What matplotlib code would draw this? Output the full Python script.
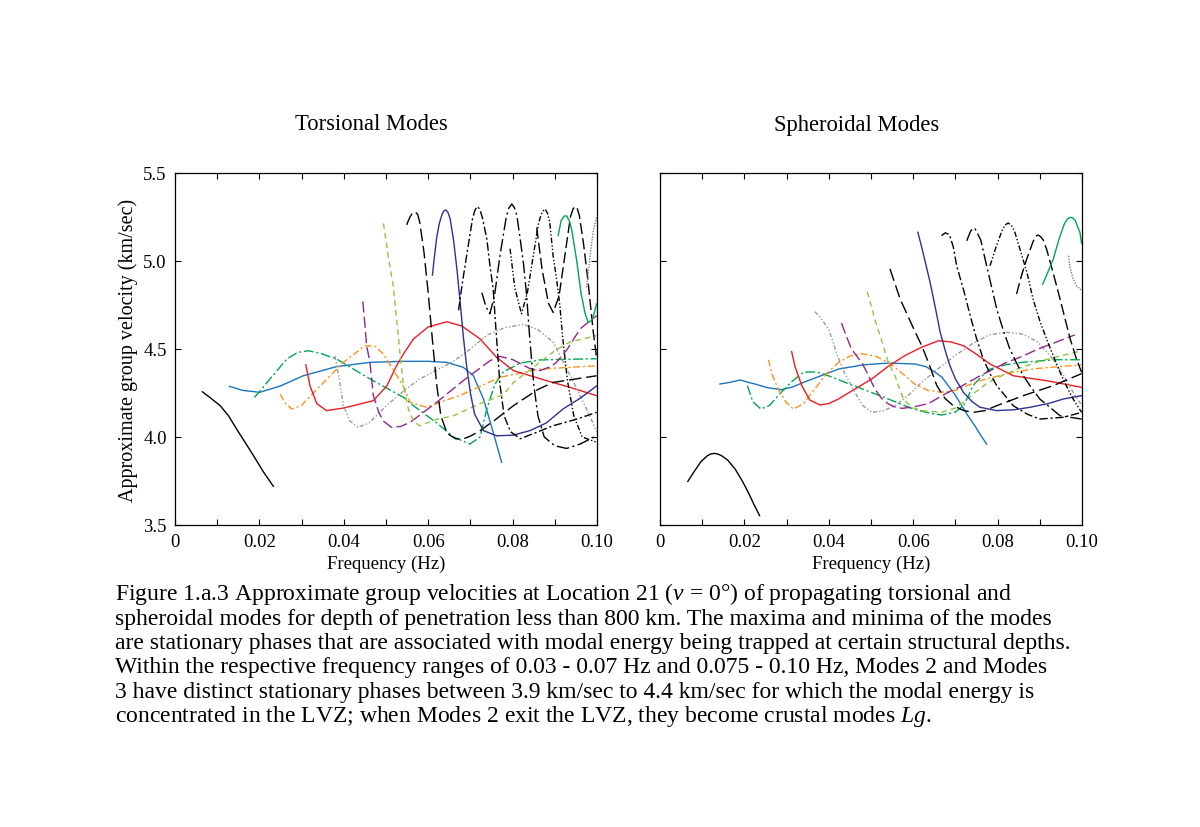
import matplotlib.pyplot as plt

plt.rcParams["font.family"] = ["Liberation Serif", "DejaVu Serif"]
plt.rcParams["mathtext.fontset"] = "custom"
plt.rcParams["mathtext.rm"] = "Liberation Serif"
plt.rcParams["mathtext.it"] = "Liberation Serif:italic"

# ---- Torsional modes: frequency (Hz) / group velocity (km/sec) ----
t0_f = [0.0065, 0.0085, 0.0107, 0.0127, 0.0146, 0.0166, 0.0186, 0.0210, 0.0233]
t0_v = [4.257, 4.22, 4.178, 4.12, 4.045, 3.97, 3.894, 3.80, 3.72]
t1_f = [0.0129, 0.0160, 0.0201, 0.0250, 0.0304, 0.0383, 0.0462, 0.0541, 0.0600,
        0.0644, 0.0683, 0.0707, 0.0731, 0.0754, 0.0774]
t1_v = [4.288, 4.265, 4.254, 4.29, 4.348, 4.40, 4.424, 4.43, 4.43,
        4.424, 4.396, 4.349, 4.216, 4.027, 3.856]
t2_f = [0.0188, 0.0205, 0.0225, 0.0265, 0.0290, 0.0316, 0.0345, 0.0383, 0.0462,
        0.0541, 0.0565, 0.0620, 0.0660, 0.0699, 0.0723, 0.0739, 0.0758, 0.0778,
        0.0818, 0.0865, 0.0999]
t2_v = [4.225, 4.27, 4.33, 4.443, 4.48, 4.49, 4.475, 4.443, 4.33,
        4.226, 4.178, 4.08, 4.0, 3.96, 4.0, 4.16, 4.30, 4.37,
        4.42, 4.438, 4.445]
t3_f = [0.0249, 0.0262, 0.0277, 0.0300, 0.0344, 0.0399, 0.0450, 0.0475, 0.0494,
        0.0541, 0.0557, 0.0596, 0.0620, 0.0683, 0.0770, 0.0865, 0.0999]
t3_v = [4.244, 4.19, 4.159, 4.18, 4.29, 4.424, 4.519, 4.515, 4.47,
        4.29, 4.197, 4.169, 4.19, 4.244, 4.339, 4.386, 4.405]
t4_f = [0.0310, 0.0320, 0.0336, 0.0359, 0.0400, 0.0470, 0.0502, 0.0525, 0.0541,
        0.0565, 0.0600, 0.0644, 0.0680, 0.0723, 0.0762, 0.0802, 0.0881, 0.0936, 0.0999]
t4_v = [4.41, 4.29, 4.19, 4.15, 4.165, 4.206, 4.29, 4.405, 4.47,
        4.557, 4.625, 4.655, 4.63, 4.557, 4.453, 4.377, 4.32, 4.282, 4.235]
t5_f = [0.0379, 0.0389, 0.0399, 0.0415, 0.0434, 0.0460, 0.0502, 0.0541, 0.0580,
        0.0620, 0.0660, 0.0700, 0.0740, 0.0780, 0.0825, 0.0860, 0.0896, 0.0928,
        0.0960, 0.0983, 0.0999]
t5_v = [4.46, 4.33, 4.18, 4.09, 4.055, 4.08, 4.18, 4.26, 4.33,
        4.38, 4.43, 4.50, 4.58, 4.62, 4.64, 4.61, 4.54, 4.39,
        4.235, 4.12, 4.03]
t6_f = [0.0445, 0.0450, 0.0454, 0.0462, 0.0470, 0.0483, 0.0494, 0.0513, 0.0535,
        0.0557, 0.0620, 0.0683, 0.0746, 0.0770, 0.0800, 0.0840, 0.0865, 0.0890,
        0.0904, 0.0930, 0.0960, 0.0999]
t6_v = [4.77, 4.64, 4.52, 4.424, 4.235, 4.14, 4.09, 4.055, 4.06,
        4.083, 4.197, 4.32, 4.433, 4.458, 4.44, 4.39, 4.377, 4.40,
        4.424, 4.50, 4.614, 4.69]
t7_f = [0.0494, 0.0505, 0.0517, 0.0525, 0.0533, 0.0541, 0.0553, 0.0565, 0.0580,
        0.0620, 0.0660, 0.0723, 0.0778, 0.0802, 0.0857, 0.0900, 0.0936, 0.0999]
t7_v = [5.214, 5.03, 4.86, 4.67, 4.48, 4.30, 4.16, 4.09, 4.064,
        4.10, 4.121, 4.19, 4.24, 4.31, 4.41, 4.49, 4.54, 4.576]
t8_f = [0.0549, 0.0553, 0.0557, 0.0563, 0.0569, 0.0575, 0.0580, 0.0590, 0.0600,
        0.0610, 0.0620, 0.0630, 0.0645, 0.0665, 0.0683, 0.0700, 0.0723, 0.0760,
        0.0802, 0.0860, 0.0896, 0.0950, 0.0999]
t8_v = [5.205, 5.23, 5.25, 5.275, 5.28, 5.265, 5.22, 5.05, 4.82,
        4.55, 4.30, 4.12, 4.02, 3.99, 3.989, 4.005, 4.036, 4.10,
        4.178, 4.27, 4.31, 4.33, 4.348]
t9_f = [0.0610, 0.0615, 0.0620, 0.0626, 0.0632, 0.0637, 0.0642, 0.0647, 0.0652,
        0.0660, 0.0668, 0.0676, 0.0683, 0.0691, 0.0700, 0.0710, 0.0731, 0.0762,
        0.0800, 0.0841, 0.0880, 0.0920, 0.0960, 0.0999]
t9_v = [4.92, 5.03, 5.13, 5.21, 5.26, 5.285, 5.29, 5.275, 5.24,
        5.12, 4.955, 4.76, 4.576, 4.405, 4.25, 4.13, 4.036, 4.007,
        4.01, 4.036, 4.08, 4.16, 4.22, 4.29]
t10_f = [0.0672, 0.0680, 0.0691, 0.0705, 0.0711, 0.0716, 0.0722, 0.0728, 0.0739,
         0.0746, 0.0754, 0.0762, 0.0770, 0.0780, 0.0795, 0.0818, 0.0850, 0.0896,
         0.0950, 0.0999]
t10_v = [4.72, 4.86, 5.03, 5.24, 5.29, 5.31, 5.295, 5.25, 5.125,
         4.98, 4.84, 4.56, 4.30, 4.12, 4.03, 3.99, 4.02, 4.064,
         4.10, 4.14]
t11_f = [0.0727, 0.0737, 0.0746, 0.0757, 0.0770, 0.0785, 0.0791, 0.0798, 0.0804,
         0.0810, 0.0818, 0.0826, 0.0833, 0.0841, 0.0850, 0.0860, 0.0875, 0.0900,
         0.0928, 0.0960, 0.0999]
t11_v = [4.82, 4.74, 4.70, 4.80, 5.03, 5.25, 5.30, 5.324, 5.305,
         5.26, 5.125, 4.98, 4.81, 4.55, 4.30, 4.12, 4.00, 3.95,
         3.935, 3.96, 4.007]
t12_f = [0.0794, 0.0805, 0.0821, 0.0835, 0.0849, 0.0862, 0.0870, 0.0877, 0.0883,
         0.0888, 0.0896, 0.0904, 0.0912, 0.0919, 0.0930, 0.0945, 0.0965, 0.0999]
t12_v = [5.07, 4.85, 4.70, 4.82, 5.03, 5.22, 5.28, 5.295, 5.27,
         5.22, 5.03, 4.90, 4.746, 4.557, 4.32, 4.12, 4.00, 3.97]
t13_f = [0.0857, 0.0870, 0.0885, 0.0896, 0.0910, 0.0925, 0.0937, 0.0943, 0.0948,
         0.0953, 0.0958, 0.0968, 0.0978, 0.0991, 0.0999]
t13_v = [5.19, 4.95, 4.76, 4.708, 4.80, 5.05, 5.25, 5.295, 5.31,
         5.30, 5.26, 5.10, 4.90, 4.60, 4.45]
t14_f = [0.0908, 0.0915, 0.0922, 0.0928, 0.0934, 0.0940, 0.0952, 0.0962, 0.0972,
         0.0979, 0.0986, 0.0993, 0.0999]
t14_v = [5.144, 5.23, 5.255, 5.257, 5.23, 5.18, 5.0, 4.82, 4.70,
         4.652, 4.66, 4.70, 4.756]
t15_f = [0.0975, 0.0980, 0.0986, 0.0992, 0.0999]
t15_v = [4.85, 4.95, 5.08, 5.18, 5.25]

# ---- Spheroidal modes ----
s0_f = [0.0066, 0.0080, 0.0097, 0.0113, 0.0121, 0.0129, 0.0137, 0.0145, 0.0160,
        0.0178, 0.0195, 0.0209, 0.0222, 0.0236]
s0_v = [3.748, 3.80, 3.86, 3.895, 3.904, 3.907, 3.903, 3.895, 3.87,
        3.818, 3.75, 3.686, 3.62, 3.553]
s1_f = [0.0142, 0.0165, 0.0190, 0.0210, 0.0225, 0.0255, 0.0288, 0.0315, 0.0344,
        0.0423, 0.0482, 0.0541, 0.0604, 0.0630, 0.0652, 0.0668, 0.0683, 0.0699,
        0.0715, 0.0730, 0.0746, 0.0760, 0.0774]
s1_v = [4.301, 4.31, 4.324, 4.31, 4.301, 4.28, 4.269, 4.285, 4.314,
        4.386, 4.41, 4.42, 4.415, 4.40, 4.368, 4.34, 4.292, 4.24,
        4.178, 4.12, 4.064, 4.01, 3.96]
s2_f = [0.0207, 0.0220, 0.0239, 0.0260, 0.0280, 0.0310, 0.0340, 0.0370, 0.0399,
        0.0450, 0.0521, 0.0600, 0.0640, 0.0667, 0.0699, 0.0720, 0.0742, 0.0760,
        0.0782, 0.0818, 0.0857, 0.0936, 0.0999]
s2_v = [4.292, 4.20, 4.159, 4.18, 4.235, 4.31, 4.368, 4.37, 4.348,
        4.30, 4.235, 4.159, 4.135, 4.125, 4.14, 4.18, 4.292, 4.34,
        4.386, 4.41, 4.424, 4.439, 4.439]
s3_f = [0.0257, 0.0265, 0.0280, 0.0298, 0.0316, 0.0340, 0.0367, 0.0395, 0.0423,
        0.0450, 0.0478, 0.0510, 0.0541, 0.0570, 0.0604, 0.0635, 0.0667, 0.0700,
        0.0758, 0.0837, 0.0896, 0.0999]
s3_v = [4.439, 4.36, 4.273, 4.20, 4.159, 4.19, 4.273, 4.36, 4.424,
        4.46, 4.473, 4.46, 4.424, 4.37, 4.30, 4.265, 4.254, 4.265,
        4.32, 4.368, 4.39, 4.41]
s4_f = [0.0312, 0.0320, 0.0336, 0.0355, 0.0379, 0.0400, 0.0423, 0.0460, 0.0502,
        0.0540, 0.0580, 0.0620, 0.0660, 0.0690, 0.0719, 0.0750, 0.0782, 0.0837,
        0.0916, 0.0999]
s4_v = [4.485, 4.40, 4.292, 4.21, 4.182, 4.19, 4.216, 4.27, 4.33,
        4.40, 4.462, 4.51, 4.547, 4.54, 4.519, 4.47, 4.415, 4.348,
        4.32, 4.282]
s5_f = [0.0367, 0.0380, 0.0399, 0.0410, 0.0419, 0.0438, 0.0462, 0.0480, 0.0502,
        0.0530, 0.0557, 0.0590, 0.0620, 0.0660, 0.0699, 0.0740, 0.0780, 0.0820,
        0.0860, 0.0896, 0.0925, 0.0952, 0.0975, 0.0999]
s5_v = [4.712, 4.68, 4.614, 4.54, 4.47, 4.36, 4.254, 4.18, 4.14,
        4.15, 4.178, 4.24, 4.311, 4.39, 4.462, 4.53, 4.58, 4.595,
        4.585, 4.538, 4.46, 4.368, 4.27, 4.18]
s6_f = [0.0430, 0.0442, 0.0454, 0.0466, 0.0478, 0.0494, 0.0509, 0.0525, 0.0541,
        0.0557, 0.0573, 0.0600, 0.0636, 0.0680, 0.0715, 0.0760, 0.0818, 0.0860,
        0.0896, 0.0940, 0.0983]
s6_v = [4.648, 4.57, 4.50, 4.46, 4.424, 4.35, 4.273, 4.22, 4.188,
        4.17, 4.163, 4.17, 4.19, 4.25, 4.29, 4.35, 4.42, 4.46,
        4.50, 4.54, 4.58]
s7_f = [0.0491, 0.0500, 0.0509, 0.0525, 0.0541, 0.0557, 0.0568, 0.0577, 0.0595,
        0.0620, 0.0667, 0.0700, 0.0723, 0.0750, 0.0778, 0.0820, 0.0857, 0.0900,
        0.0936, 0.0999]
s7_v = [4.826, 4.75, 4.67, 4.55, 4.424, 4.348, 4.27, 4.216, 4.17,
        4.15, 4.14, 4.165, 4.206, 4.26, 4.311, 4.36, 4.396, 4.43,
        4.453, 4.49]
s8_f = [0.0545, 0.0557, 0.0569, 0.0585, 0.0604, 0.0620, 0.0636, 0.0656, 0.0675,
        0.0695, 0.0720, 0.0742, 0.0770, 0.0798, 0.0861, 0.0932, 0.0999]
s8_v = [4.955, 4.87, 4.784, 4.70, 4.60, 4.52, 4.424, 4.292, 4.22,
        4.178, 4.15, 4.14, 4.15, 4.178, 4.235, 4.292, 4.36]
s9_f = [0.0611, 0.0620, 0.0630, 0.0640, 0.0652, 0.0664, 0.0676, 0.0687, 0.0700,
        0.0719, 0.0740, 0.0758, 0.0798, 0.0840, 0.0877, 0.0920, 0.0956, 0.0999]
s9_v = [5.163, 5.08, 4.98, 4.879, 4.74, 4.595, 4.49, 4.405, 4.33,
        4.254, 4.20, 4.169, 4.15, 4.155, 4.169, 4.19, 4.216, 4.235]
s10_f = [0.0667, 0.0676, 0.0686, 0.0695, 0.0703, 0.0720, 0.0735, 0.0750, 0.0766,
         0.0782, 0.0798, 0.0837, 0.0870, 0.0900, 0.0956, 0.0999]
s10_v = [5.144, 5.16, 5.15, 5.08, 4.973, 4.83, 4.69, 4.56, 4.443,
         4.36, 4.292, 4.178, 4.13, 4.102, 4.112, 4.14]
s11_f = [0.0727, 0.0736, 0.0741, 0.0746, 0.0760, 0.0774, 0.0798, 0.0813, 0.0829,
         0.0845, 0.0861, 0.0880, 0.0900, 0.0948, 0.0999]
s11_v = [5.115, 5.17, 5.182, 5.186, 5.12, 4.973, 4.727, 4.61, 4.50,
         4.42, 4.348, 4.28, 4.216, 4.121, 4.102]
s12_f = [0.0782, 0.0795, 0.0810, 0.0818, 0.0825, 0.0832, 0.0840, 0.0853, 0.0870,
         0.0884, 0.0900, 0.0916, 0.0932, 0.0948, 0.0963, 0.0979, 0.0999]
s12_v = [4.973, 5.07, 5.17, 5.205, 5.216, 5.205, 5.17, 5.068, 4.93,
         4.784, 4.66, 4.557, 4.46, 4.368, 4.29, 4.216, 4.14]
s13_f = [0.0845, 0.0857, 0.0869, 0.0884, 0.0890, 0.0896, 0.0902, 0.0908, 0.0916,
         0.0932, 0.0948, 0.0960, 0.0972, 0.0986, 0.0999]
s13_v = [4.813, 4.92, 5.011, 5.11, 5.14, 5.148, 5.138, 5.12, 5.068,
         4.93, 4.784, 4.67, 4.557, 4.45, 4.368]
s14_f = [0.0907, 0.0918, 0.0932, 0.0945, 0.0958, 0.0965, 0.0972, 0.0978, 0.0984,
         0.0995, 0.0999]
s14_v = [4.869, 4.93, 5.011, 5.12, 5.21, 5.238, 5.248, 5.245, 5.23,
         5.163, 5.10]
s15_f = [0.0968, 0.0972, 0.0979, 0.0987, 0.0995, 0.0999]
s15_v = [5.03, 4.96, 4.898, 4.86, 4.84, 4.835]

TORSIONAL = [(t0_f, t0_v), (t1_f, t1_v), (t2_f, t2_v), (t3_f, t3_v), (t4_f, t4_v),
             (t5_f, t5_v), (t6_f, t6_v), (t7_f, t7_v), (t8_f, t8_v), (t9_f, t9_v),
             (t10_f, t10_v), (t11_f, t11_v), (t12_f, t12_v), (t13_f, t13_v),
             (t14_f, t14_v), (t15_f, t15_v)]
SPHEROIDAL = [(s0_f, s0_v), (s1_f, s1_v), (s2_f, s2_v), (s3_f, s3_v), (s4_f, s4_v),
              (s5_f, s5_v), (s6_f, s6_v), (s7_f, s7_v), (s8_f, s8_v), (s9_f, s9_v),
              (s10_f, s10_v), (s11_f, s11_v), (s12_f, s12_v), (s13_f, s13_v),
              (s14_f, s14_v), (s15_f, s15_v)]

X_TICKS = [0, 0.02, 0.04, 0.06, 0.08, 0.10]
X_LABELS = ["0", "0.02", "0.04", "0.06", "0.08", "0.10"]
X_MINOR = [0.01, 0.03, 0.05, 0.07, 0.09]
Y_TICKS = [3.5, 4.0, 4.5, 5.0, 5.5]
Y_LABELS = ["3.5", "4.0", "4.5", "5.0", "5.5"]

# colour / dash per mode number (same in both panels)
STYLES = [
    ("black",   "-"),
    ("#1b75bc", "-"),
    ("#00a651", (0, (7, 2, 1.5, 2))),
    ("#f7941d", (0, (5, 2, 1.5, 2))),
    ("#ed1c24", "-"),
    ("#9a9a9a", (0, (3, 1.5, 1, 1.5, 1, 1.5))),
    ("#92278f", (0, (8, 3))),
    ("#8dc63f", (0, (4, 3))),
    ("black",   (0, (9, 3.5))),
    ("#2e3192", "-"),
    ("black",   (0, (6, 2, 1.5, 2))),
    ("black",   (0, (9, 2.5, 1.5, 2.5))),
    ("black",   (0, (4, 1.5, 1, 1.5, 1, 1.5))),
    ("black",   (0, (8, 3))),
    ("#00a651", "-"),
    ("#808080", (0, (1, 1))),
]

CAPTION = [
    r"Figure 1.a.3 Approximate group velocities at Location 21 ($\mathit{\nu}$ = 0°) of propagating torsional and",
    "spheroidal modes for depth of penetration less than 800 km. The maxima and minima of the modes",
    "are stationary phases that are associated with modal energy being trapped at certain structural depths.",
    "Within the respective frequency ranges of 0.03 - 0.07 Hz and 0.075 - 0.10 Hz, Modes 2 and Modes",
    "3 have distinct stationary phases between 3.9 km/sec to 4.4 km/sec for which the modal energy is",
    r"concentrated in the LVZ; when Modes 2 exit the LVZ, they become crustal modes $\mathit{Lg}$.",
]

W, H = 1200, 828
fig = plt.figure(figsize=(W / 100, H / 100), dpi=100)
ax_t = fig.add_axes([175 / W, 1 - 526 / H, 422 / W, 352 / H])
ax_s = fig.add_axes([660 / W, 1 - 526 / H, 422 / W, 352 / H])

for ax, modes in ((ax_t, TORSIONAL), (ax_s, SPHEROIDAL)):
    for (f, v), (color, ls) in zip(modes, STYLES):
        ax.plot(f, v, color=color, linestyle=ls, linewidth=1.0)
    ax.set_xlim(0, 0.1)
    ax.set_ylim(3.5, 5.5)
    ax.set_xticks(X_TICKS)
    ax.set_xticklabels(X_LABELS)
    ax.set_xticks(X_MINOR, minor=True)
    ax.set_yticks(Y_TICKS)
    ax.set_yticklabels(Y_LABELS)
    ax.tick_params(which="both", direction="in", top=True, right=True,
                   length=4, width=0.8, labelsize=13.5, pad=6)
    for sp in ax.spines.values():
        sp.set_linewidth(0.9)
    ax.set_xlabel("Frequency (Hz)", fontsize=13.5, labelpad=3)

ax_t.set_ylabel("Approximate group velocity (km/sec)", fontsize=14.5, labelpad=4)
ax_s.tick_params(labelleft=False)

fig.text(371 / W, 1 - 125 / H, "Torsional Modes", fontsize=16.3, ha="center", va="center")
fig.text(857 / W, 1 - 125 / H, "Spheroidal Modes", fontsize=16.3, ha="center", va="center")

for i, line in enumerate(CAPTION):
    fig.text(115 / W, 1 - (600 + 24.5 * i) / H, line, fontsize=17,
             ha="left", va="baseline")

fig.savefig("out.png", dpi=100)
